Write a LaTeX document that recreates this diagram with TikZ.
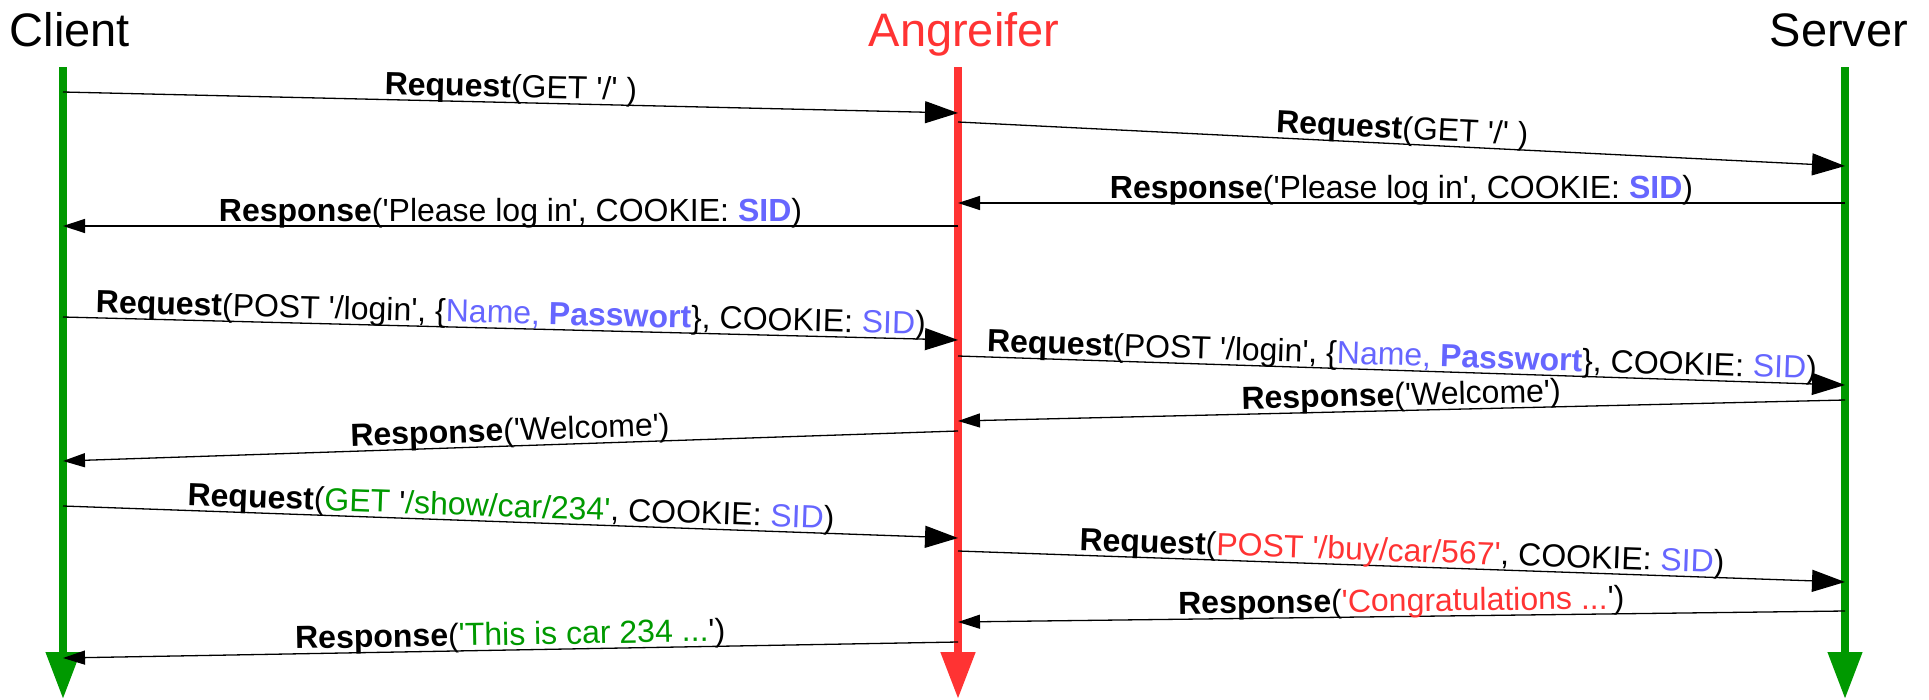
\documentclass[tikz,border=0pt]{standalone}
\usepackage{fontspec}
\setmainfont{Liberation Sans}[Ligatures=TeXOff]
\usetikzlibrary{arrows.meta}

\definecolor{lgreen}{RGB}{0,153,0}
\definecolor{lred}{RGB}{255,51,51}
\definecolor{sidblue}{RGB}{102,102,255}

\newcommand{\sidtext}{\textcolor{sidblue}{SID}}

\tikzset{
  life/.style={line width=7.5pt, -{Triangle[length=47pt,width=33pt]}},
  req/.style={line width=1.3pt, -{Triangle[length=33pt,width=22pt]}},
  resp/.style={line width=1.3pt, -{Triangle[length=22pt,width=14pt]}},
  msg/.style={midway, sloped, anchor=base, yshift=5pt, inner sep=0pt,
    font=\fontsize{32}{38}\selectfont},
  title/.style={anchor=base, inner sep=0pt, font=\fontsize{47}{56}\selectfont}
}

\begin{document}
\begin{tikzpicture}[x=1pt,y=-1pt]
       \useasboundingbox (0,0) rectangle (1929,699);
       \node[title] (client) at (70,46) {Client};
       \node[title, lred] (angreifer) at (964,46) {Angreifer};
       \node[title] (server) at (1839,46) {Server};
       \coordinate (c) at (63,67);
       \coordinate (a) at (958,67);
       \coordinate (s) at (1845,67);
       \draw[life, lgreen] (c) -- (c |- 0,699);
       \draw[life, lred, line width=8pt] (a) -- (a |- 0,699);
       \draw[life, lgreen] (s) -- (s |- 0,699);
       \draw[req] (c |- 0,92) -- (a |- 0,113) node[msg] {\textbf{Request}(GET '/' )};
       \draw[req] (a |- 0,122) -- (s |- 0,166) node[msg] {\textbf{Request}(GET '/' )};
       \draw[resp] (s |- 0,203) -- (a |- 0,203) node[msg] {\textbf{Response}('Please log in', COOKIE: \textcolor{sidblue}{\textbf{SID}})};
       \draw[resp] (a |- 0,226) -- (c |- 0,226) node[msg] {\textbf{Response}('Please log in', COOKIE: \textcolor{sidblue}{\textbf{SID}})};
       \draw[req] (c |- 0,317) -- (a |- 0,340) node[msg] {\textbf{Request}(POST '/login', \{\textcolor{sidblue}{Name, \textbf{Passwort}}\}, COOKIE: \sidtext)};
       \draw[req] (a |- 0,356) -- (s |- 0,385) node[msg] {\textbf{Request}(POST '/login', \{\textcolor{sidblue}{Name, \textbf{Passwort}}\}, COOKIE: \sidtext)};
       \draw[resp] (s |- 0,400) -- (a |- 0,421) node[msg] {\textbf{Response}('Welcome')};
       \draw[resp] (a |- 0,431) -- (c |- 0,461) node[msg] {\textbf{Response}('Welcome')};
       \draw[req] (c |- 0,506) -- (a |- 0,538) node[msg] {\textbf{Request}(\textcolor{lgreen}{GET} '\textcolor{lgreen}{/show/car/234'}, COOKIE: \sidtext)};
       \draw[req] (a |- 0,551) -- (s |- 0,582) node[msg] {\textbf{Request}(\textcolor{lred}{POST '/buy/car/567'}, COOKIE: \sidtext)};
       \draw[resp] (s |- 0,611) -- (a |- 0,622) node[msg] {\textbf{Response}(\textcolor{lred}{'Congratulations ...}')};
       \draw[resp] (a |- 0,642) -- (c |- 0,658) node[msg] {\textbf{Response}(\textcolor{lgreen}{'This is car 234 ...}')};
\end{tikzpicture}
\end{document}
